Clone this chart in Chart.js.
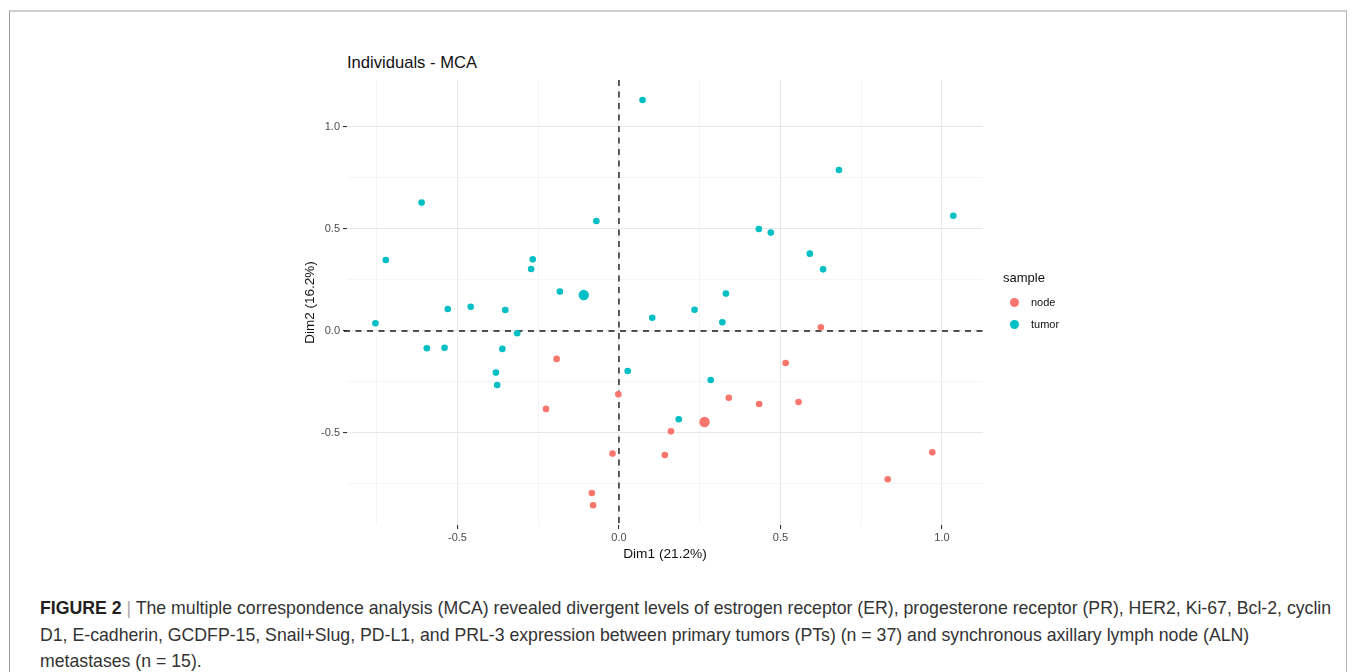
<!DOCTYPE html>
<html>
<head>
<meta charset="utf-8">
<script src="https://cdn.jsdelivr.net/npm/chart.js@4.4.1/dist/chart.umd.min.js"></script>
<style>
  body { margin: 0; background: #fff; width: 1355px; height: 672px; overflow: hidden; position: relative; font-family: "Liberation Sans", Arial, sans-serif; }
  #frame { position: absolute; left: 9px; top: 10px; width: 1336px; height: 700px; border-top: 2px solid #cfcfcf; border-left: 1px solid #9a9a9a; border-right: 1px solid #b5b5b5; }
  #wrap { position: absolute; left: 290px; top: 40px; width: 720px; height: 530px; }
  #title { position: absolute; left: 347px; top: 53px; font-size: 16.6px; color: #111; }
  #legend { position: absolute; left: 1003px; top: 270px; color: #111; }
  #legend .head { font-size: 13px; margin-bottom: 6px; }
  #legend .item { position: relative; height: 22px; font-size: 11px; line-height: 22px; padding-left: 28px; }
  #legend .dot { position: absolute; left: 7px; top: 7px; width: 9px; height: 9px; border-radius: 50%; }
  #caption { position: absolute; left: 40px; top: 595px; font-size: 17.7px; line-height: 26.5px; color: #333; white-space: nowrap; }
  #caption b { color: #231f20; }
  #caption .sep { color: #aaa; }
</style>
</head>
<body>
<div id="frame"></div>
<div id="title">Individuals - MCA</div>
<div id="wrap"><canvas id="mca"></canvas></div>
<div id="legend">
  <div class="head">sample</div>
  <div class="item"><span class="dot" style="background:#F8766D"></span>node</div>
  <div class="item"><span class="dot" style="background:#00BFC4"></span>tumor</div>
</div>
<div id="caption"><b>FIGURE 2</b> <span class="sep">|</span> The multiple correspondence analysis (MCA) revealed divergent levels of estrogen receptor (ER), progesterone receptor (PR), HER2, Ki-67, Bcl-2, cyclin<br>D1, E-cadherin, GCDFP-15, Snail+Slug, PD-L1, and PRL-3 expression between primary tumors (PTs) (n = 37) and synchronous axillary lymph node (ALN)<br>metastases (n = 15).</div>
<script>
// Dim1 / Dim2 des individus
const nodeX = [0.625, -0.193, -0.226, -0.002, -0.020, -0.084, -0.080, 0.516, 0.340, 0.434, 0.556, 0.161, 0.142, 0.970, 0.832];
const nodeY = [0.018, -0.137, -0.382, -0.310, -0.601, -0.794, -0.854, -0.157, -0.327, -0.358, -0.348, -0.492, -0.608, -0.595, -0.727];

const tumorX = [-0.611, -0.722, -0.754, -0.530, -0.459, -0.352, -0.315, -0.267, -0.272, -0.183, -0.070, 0.073, 0.103, 0.234, 0.320,
                0.331, 0.433, 0.470, 0.591, 0.632, 0.681, 1.035, -0.595, -0.540, -0.361, -0.381, -0.377, 0.027, 0.284, 0.185];
const tumorY = [0.629, 0.348, 0.038, 0.108, 0.119, 0.103, -0.011, 0.351, 0.304, 0.193, 0.539, 1.132, 0.065, 0.104, 0.043,
                0.183, 0.500, 0.482, 0.379, 0.302, 0.789, 0.565, -0.085, -0.082, -0.088, -0.204, -0.265, -0.196, -0.240, -0.433];

// centres de groupe (points plus gros)
const centerX = [0.265, -0.109];
const centerY = [-0.446, 0.176];

const groups = ["node", "tumor"];
const colors = ["#F8766D", "#00BFC4"];

const xRange = [-0.842, 1.127];
const yRange = [-0.951, 1.230];
const tickLabels = [-0.5, 0, 0.5, 1.0];

function toPoints(xs, ys) {
    return xs.map((x, i) => ({ x: x, y: ys[i] }));
}

function isMajor(v) {
    return tickLabels.some(t => Math.abs(t - v) < 1e-6);
}

// lignes pointillées en x = 0 et y = 0
const zeroLines = {
    id: "zeroLines",
    beforeDatasetsDraw(chart) {
        const { ctx, chartArea, scales } = chart;
        const x0 = scales.x.getPixelForValue(0);
        const y0 = scales.y.getPixelForValue(0);
        ctx.save();
        ctx.strokeStyle = "#1a1a1a";
        ctx.lineWidth = 1.4;
        ctx.setLineDash([6, 5.5]);
        ctx.beginPath();
        ctx.moveTo(chartArea.left - 3, y0);
        ctx.lineTo(chartArea.right, y0);
        ctx.moveTo(x0, chartArea.top);
        ctx.lineTo(x0, chartArea.bottom);
        ctx.stroke();
        ctx.restore();
    }
};

const gridOpts = {
    color: ctx => isMajor(ctx.tick.value) ? "#e8e8e8" : "#f3f3f3",
    lineWidth: ctx => isMajor(ctx.tick.value) ? 1.1 : 0.8,
    tickColor: ctx => isMajor(ctx.tick.value) ? "#333" : "rgba(0,0,0,0)",
    tickLength: 4,
    drawTicks: true
};

new Chart(document.getElementById("mca"), {
    type: "scatter",
    data: {
        datasets: [
            { label: groups[0], data: toPoints(nodeX, nodeY), backgroundColor: colors[0], borderWidth: 0, pointRadius: 3.3 },
            { label: groups[1], data: toPoints(tumorX, tumorY), backgroundColor: colors[1], borderWidth: 0, pointRadius: 3.3 },
            { label: groups[0] + " centre", data: [{ x: centerX[0], y: centerY[0] }], backgroundColor: colors[0], borderWidth: 0, pointRadius: 5.2 },
            { label: groups[1] + " centre", data: [{ x: centerX[1], y: centerY[1] }], backgroundColor: colors[1], borderWidth: 0, pointRadius: 5.2 }
        ]
    },
    options: {
        responsive: true,
        maintainAspectRatio: false,
        animation: false,
        layout: { padding: { top: 40, right: 27, left: 0, bottom: 0 } },
        plugins: { legend: { display: false }, tooltip: { enabled: false } },
        scales: {
            x: {
                type: "linear",
                min: xRange[0],
                max: xRange[1],
                border: { display: false },
                grid: gridOpts,
                ticks: {
                    stepSize: 0.25,
                    includeBounds: false,
                    autoSkip: false,
                    maxRotation: 0,
                    padding: 2,
                    color: "#4d4d4d",
                    font: { family: "Liberation Sans", size: 11 },
                    callback: v => isMajor(v) ? v.toFixed(1) : ""
                },
                title: { display: true, text: "Dim1 (21.2%)", color: "#111", font: { family: "Liberation Sans", size: 13.7 }, padding: { top: 2, bottom: 8 } },
                afterFit: s => { s.height = 45; }
            },
            y: {
                type: "linear",
                min: yRange[0],
                max: yRange[1],
                border: { display: false },
                grid: gridOpts,
                ticks: {
                    stepSize: 0.25,
                    includeBounds: false,
                    autoSkip: false,
                    padding: 3,
                    color: "#4d4d4d",
                    font: { family: "Liberation Sans", size: 11 },
                    callback: v => isMajor(v) ? v.toFixed(1) : ""
                },
                title: { display: true, text: "Dim2 (16.2%)", color: "#111", font: { family: "Liberation Sans", size: 13.5 }, padding: { top: 12, bottom: 4 } },
                afterFit: s => { s.width = 57; }
            }
        }
    },
    plugins: [zeroLines]
});
</script>
</body>
</html>
